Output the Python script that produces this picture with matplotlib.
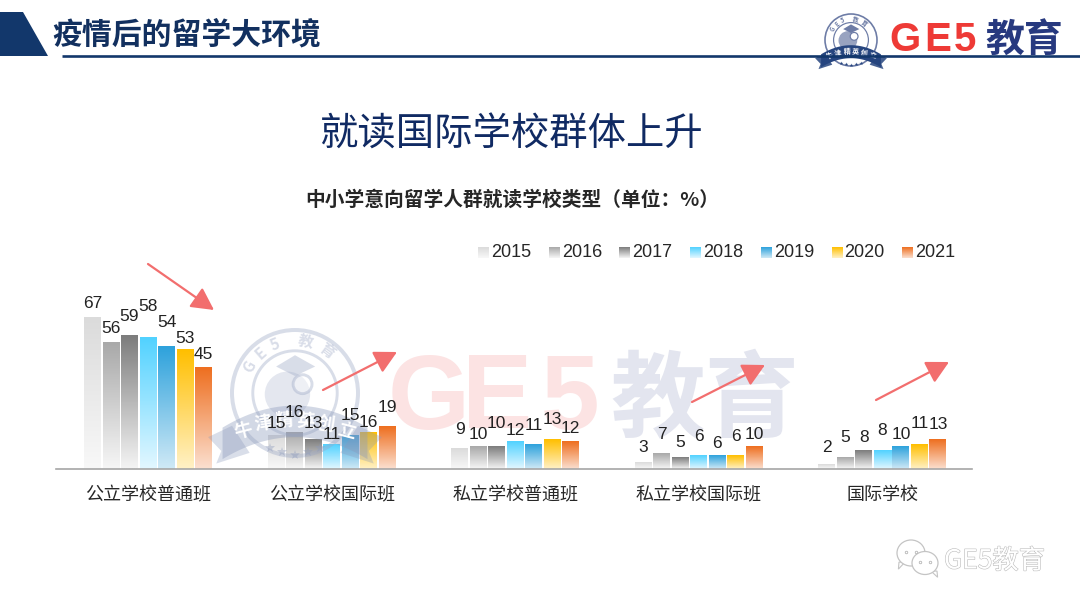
import matplotlib
matplotlib.use('Agg')
import matplotlib.pyplot as plt
import matplotlib.patheffects as pe
from matplotlib.colors import LinearSegmentedColormap
from matplotlib.patches import Circle, Ellipse, Polygon
import numpy as np

plt.rcParams['font.family'] = ['Noto Sans CJK SC', 'Liberation Sans', 'DejaVu Sans']

### Data ###

categories = ['公立学校普通班', '公立学校国际班', '私立学校普通班', '私立学校国际班', '国际学校']
years = ['2015', '2016', '2017', '2018', '2019', '2020', '2021']

values_2015 = [67, 15, 9, 3, 2]
values_2016 = [56, 16, 10, 7, 5]
values_2017 = [59, 13, 10, 5, 8]
values_2018 = [58, 11, 12, 6, 8]
values_2019 = [54, 15, 11, 6, 10]
values_2020 = [53, 16, 13, 6, 11]
values_2021 = [45, 19, 12, 10, 13]

### Styling and layout (pixels) ###

W, H = 1080, 607
NAVY = '#12376b'
BASE_Y = 469
PX_PER_UNIT = 2.26
GROUP_X0 = 148
GROUP_STEP = 183.6
BAR_STEP = 18.5
BAR_W = 17

# top and bottom colour of each year's gradient
top_colors = ['#dbdbdb', '#a9a9a9', '#7d7d7d', '#52d2ff', '#2ea2dc', '#ffbf00', '#ee6f20']
bottom_colors = ['#f8f8f8', '#f6f6f6', '#f4f4f4', '#e2f7ff', '#cfe9f6', '#fff1c6', '#fbdfcf']

# height of each value label above its bar, one row per year, the labels are staggered in the original
label_gaps = [
    [14, 12, 19, 15, 17],
    [14, 20, 12, 19, 20],
    [19, 16, 23, 15, 13],
    [31, 10, 11, 19, 20],
    [24, 20, 19, 12, 12],
    [11, 10, 20, 19, 21],
    [13, 19, 13, 12, 15],
]


def px_x(x):
    return (x - GROUP_X0) / GROUP_STEP


def draw_gradient(axis, extent, cmap):
    grad = np.linspace(1, 0, 64)[:, None]
    axis.imshow(grad, extent=extent, cmap=cmap, vmin=0, vmax=1, aspect='auto',
                origin='upper', interpolation='bilinear', zorder=2)


def draw_arrow(axis, start, end):
    axis.annotate('', xy=end, xytext=start,
                  arrowprops=dict(arrowstyle='-|>,head_length=0.8,head_width=0.42',
                                  color='#f26e6e', lw=1.6, shrinkA=0, shrinkB=0,
                                  mutation_scale=17), zorder=8)


def draw_emblem(axis, cx, cy, r, ring, ribbon, ribbon_text, alpha, fs, z):
    """ Round school badge with curved ribbon, used for the logo and the watermark.
    """
    axis.add_patch(Circle((cx, cy), r, fill=False, ec=ring, lw=r / 22, alpha=alpha, zorder=z))
    axis.add_patch(Circle((cx, cy), r * 0.67, fill=False, ec=ring, lw=r / 30, alpha=alpha, zorder=z))
    # globe and mortar board
    axis.add_patch(Circle((cx - r * 0.12, cy + r * 0.02), r * 0.36, fc=ring, ec='none', alpha=alpha * 0.7, zorder=z))
    axis.add_patch(Polygon([(cx - r * 0.3, cy - r * 0.42), (cx, cy - r * 0.6), (cx + r * 0.32, cy - r * 0.42),
                            (cx, cy - r * 0.27)], fc=ring, ec='none', alpha=alpha, zorder=z))
    axis.add_patch(Ellipse((cx + r * 0.12, cy - r * 0.14), r * 0.3, r * 0.3, fc='white', ec=ring,
                           lw=r / 30, alpha=alpha, zorder=z))
    # letters along the ring
    for ch, ang in zip(['G', 'E', '5', '教', '育'], [150, 131, 112, 78, 53]):
        a = np.radians(ang)
        axis.text(cx + 0.83 * r * np.cos(a), cy - 0.83 * r * np.sin(a), ch, color=ring, alpha=alpha,
                  fontsize=fs * 0.85, fontweight='bold', ha='center', va='center', rotation=ang - 90, zorder=z)
    # ribbon
    half = 1.15 * r
    dx = np.linspace(-half, half, 40)
    upper = cy + 0.2 * r + 0.35 * r * (dx / half) ** 2
    lower = upper + 0.5 * r
    pts = list(zip(cx + dx, upper)) + list(zip(cx + dx[::-1], lower[::-1]))
    axis.add_patch(Polygon(pts, fc=ribbon, ec='none', alpha=alpha, zorder=z + 0.1))
    for side in (-1, 1):
        tail = [(cx + side * r, cy + 0.52 * r), (cx + side * 1.38 * r, cy + 0.7 * r),
                (cx + side * 1.17 * r, cy + 0.92 * r), (cx + side * 1.25 * r, cy + 1.12 * r),
                (cx + side * 0.72 * r, cy + 0.95 * r)]
        axis.add_patch(Polygon(tail, fc=ribbon, ec='none', alpha=alpha * 0.85, zorder=z))
    for i, ch in enumerate(ribbon_text):
        off = (i - 2.5) * 0.33 * r
        axis.text(cx + off, cy + 0.42 * r + 0.35 * r * (off / half) ** 2, ch, color='white', fontsize=fs,
                  ha='center', va='center', rotation=-off / half * 20, fontweight='bold', zorder=z + 0.2)
    # stars and laurel
    for off in (-0.4, -0.2, 0, 0.2, 0.4):
        axis.plot(cx + off * r, cy + 0.98 * r - abs(off) * 0.25 * r, marker='*', ms=r / 9, color=ribbon,
                  alpha=alpha, mew=0, zorder=z)


### Figure ###

fig = plt.figure(figsize=(W / 100, H / 100), dpi=100, facecolor='white')

# big watermark letters sit behind the bars
back = fig.add_axes([0, 0, 1, 1], zorder=0)
back.axis('off')
back.set_xlim(0, W)
back.set_ylim(H, 0)
for ch, lx in zip('GE5', [388, 462, 541]):
    back.text(lx, 401, ch, fontsize=76, fontweight='bold', family='Liberation Sans', color='#fce3e3',
              ha='left', va='center')
back.text(705, 403, '教育', fontsize=68, fontweight='bold', color='#e3e5ef', ha='center', va='center')

# bar axes: x unit is one category, y unit is one percent
left, right, top = 56, 972, 230
ax = fig.add_axes([left / W, 1 - BASE_Y / H, (right - left) / W, (BASE_Y - top) / H], zorder=1)

# overlay in pixel coordinates for the slide furniture
fg = fig.add_axes([0, 0, 1, 1], zorder=5)
fg.patch.set_alpha(0)
fg.axis('off')

series = [values_2015, values_2016, values_2017, values_2018, values_2019, values_2020, values_2021]
x_pos = np.arange(len(categories))
step = BAR_STEP / GROUP_STEP
width = BAR_W / GROUP_STEP

for i, vals in enumerate(series):
    offset = (i - 3) * step
    bars = ax.bar(x_pos + offset, vals, width, color='none', linewidth=0)
    cmap = LinearSegmentedColormap.from_list(years[i], [bottom_colors[i], top_colors[i]])
    for rect, val, gap in zip(bars, vals, label_gaps[i]):
        draw_gradient(ax, (rect.get_x(), rect.get_x() + rect.get_width(), 0, rect.get_height()), cmap)
        fg.annotate(str(val), (rect.get_x() + rect.get_width() / 2, val), xycoords=ax.transData,
                    xytext=(0, gap), textcoords='offset pixels', ha='center', va='center', fontsize=12.5,
                    family='Liberation Sans', color='#222222', zorder=9)

ax.set_xlim(px_x(left), px_x(right))
ax.set_ylim(0, (BASE_Y - top) / PX_PER_UNIT)
ax.patch.set_alpha(0)
for s in ['top', 'left', 'right']:
    ax.spines[s].set_visible(False)
ax.spines['bottom'].set_color('#a6a6a6')
ax.spines['bottom'].set_linewidth(1.2)
ax.set_yticks([])
ax.set_xticks(x_pos)
ax.set_xticklabels(categories, fontsize=13, color='#262626')
ax.tick_params(axis='x', length=0, pad=12.5)

# header
fg.add_patch(Polygon([(0, 12), (23, 12), (48, 56), (0, 56)], fc=NAVY, ec='none'))
fg.text(52, 34, '疫情后的留学大环境', fontsize=21.5, fontweight='bold', color='#12305f', ha='left', va='center')

# logo top right
draw_emblem(fg, 851, 40, 26, '#6d7ca6', '#26457f', '牛津精英创立', 1, 5, 3)
for ch, lx in zip('GE5', [889, 924, 954]):
    fg.text(lx, 40, ch, fontsize=29, fontweight='bold', family='Liberation Sans', color='#ee3a36',
            ha='left', va='center', zorder=3)
fg.text(1024, 41, '教育', fontsize=28, fontweight='bold', color='#27397f', ha='center', va='center', zorder=3)
fg.plot([62, 1080], [55.5, 55.5], color=NAVY, lw=1.9, solid_capstyle='butt', zorder=4)

# titles
fg.text(511, 135, '就读国际学校群体上升', fontsize=27.6, color='#102a63', ha='center', va='center')
fg.text(512, 200, '中小学意向留学人群就读学校类型（单位：%）', fontsize=14.2, fontweight='bold',
        color='#262626', ha='center', va='center')

# watermark badge lies over the bars, under the value labels
draw_emblem(fg, 295, 393, 63, '#9aa6c4', '#8b99bb', '牛津精英创立', 0.38, 13, 2)

# legend
for i, year in enumerate(years):
    lx = 478 + i * 70.7
    cmap = LinearSegmentedColormap.from_list(year + 'l', [bottom_colors[i], top_colors[i]])
    draw_gradient(fg, (lx, lx + 10.5, 258, 247), cmap)
    fg.text(lx + 13, 252.5, year, fontsize=13, family='Liberation Sans', color='#262626', ha='left', va='center')

# trend arrows
draw_arrow(fg, (148, 264), (214, 310))
draw_arrow(fg, (323, 390), (397, 352))
draw_arrow(fg, (692, 402), (765, 365))
draw_arrow(fg, (876, 400), (949, 362))

# wechat mark bottom right
for (ex, ey, ew, eh, tx) in [(911, 553, 28, 26, -9), (925, 563, 26, 23, 9)]:
    fg.add_patch(Polygon([(ex + tx - 3, ey + eh * 0.35), (ex + tx + 3, ey + eh * 0.35), (ex + tx * 1.4, ey + eh * 0.62)],
                         fc='white', ec='#c4c4c4', lw=0.8, zorder=3))
    fg.add_patch(Ellipse((ex, ey), ew, eh, fc='white', ec='#c4c4c4', lw=0.9, zorder=3))
    for d in (-5, 5):
        fg.plot(ex + d, ey - 1, 'o', ms=1.8, mfc='white', mec='#b5b5b5', mew=0.6, zorder=4)
txt = fg.text(944, 561, 'GE5教育', fontsize=19, color='white', ha='left', va='center', zorder=3)
txt.set_path_effects([pe.withStroke(linewidth=0.8, foreground='#bcbcbc')])

fg.set_xlim(0, W)
fg.set_ylim(H, 0)

fig.savefig('out.png', dpi=100, facecolor='white')
